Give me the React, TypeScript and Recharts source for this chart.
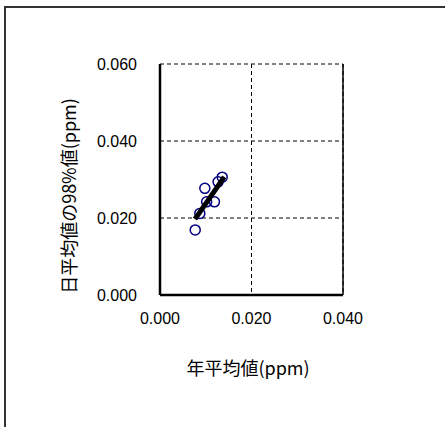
import React from 'react';
import { ScatterChart, Scatter, XAxis, YAxis, CartesianGrid, ReferenceLine } from 'recharts';

// Annual mean (ppm) vs 98th percentile of daily means (ppm)
const annualMean = [0.0077, 0.0087, 0.0098, 0.0102, 0.0119, 0.0127, 0.0136];
const daily98 = [0.0169, 0.0212, 0.0277, 0.0242, 0.0242, 0.0294, 0.0306];
// regression line end points
const fitX = [0.00765, 0.01405];
const fitY = [0.0197, 0.0307];
const xTicks = [0, 0.02, 0.04];
const yTicks = [0, 0.02, 0.04, 0.06];
const xTitle = '年平均値(ppm)';
const yTitle = '日平均値の98%値(ppm)';

const points = annualMean.map((x, i) => ({ x, y: daily98[i] }));
const fit = fitX.map((x, i) => ({ x, y: fitY[i] }));

const numFont = '"Liberation Sans", Arial, sans-serif';
const jpFont = '"Noto Sans CJK JP", sans-serif';

const Circle = (props: any) => {
  const { cx, cy } = props;
  return <circle cx={cx} cy={cy} r={5} fill="none" stroke="#000080" strokeWidth={1.5} />;
};

export default function App() {
  return (
    <div style={{ position: 'absolute', left: 0, top: 0, width: 445, height: 427, background: '#fff', overflow: 'hidden' }}>
      <div
        style={{
          position: 'absolute',
          left: 4,
          top: 6,
          width: 460,
          height: 440,
          borderTop: '2px solid #333',
          borderLeft: '2px solid #333',
        }}
      />
      <div style={{ position: 'absolute', left: 0, top: 0 }}>
        <ScatterChart width={445} height={427} margin={{ top: 64, right: 102, bottom: 102, left: 60 }}>
          <CartesianGrid stroke="#000" strokeDasharray="4 3" strokeWidth={1} />
          <XAxis
            type="number"
            dataKey="x"
            domain={[0, 0.04]}
            ticks={xTicks}
            height={30}
            tickLine={false}
            tickSize={0}
            tickMargin={18}
            axisLine={{ stroke: '#000', strokeWidth: 2.5 }}
            tick={{ fill: '#000', fontSize: 16, fontFamily: numFont }}
            tickFormatter={(v: number) => v.toFixed(3)}
            label={{
              content: () => (
                <text x={248} y={367} textAnchor="middle" dominantBaseline="central" fontSize={18} fontFamily={jpFont} fill="#000">
                  {xTitle}
                </text>
              ),
            }}
          />
          <YAxis
            type="number"
            dataKey="y"
            domain={[0, 0.06]}
            ticks={yTicks}
            width={100}
            tickLine={false}
            tickSize={0}
            tickMargin={23}
            axisLine={{ stroke: '#000', strokeWidth: 2.5 }}
            tick={{ fill: '#000', fontSize: 16, fontFamily: numFont }}
            tickFormatter={(v: number) => v.toFixed(3)}
            label={{
              content: () => (
                <text
                  x={68}
                  y={196}
                  transform="rotate(-90 68 196)"
                  textAnchor="middle"
                  dominantBaseline="central"
                  fontSize={18}
                  fontFamily={jpFont}
                  fill="#000"
                >
                  {yTitle}
                </text>
              ),
            }}
          />
          <ReferenceLine x={0.04} stroke="#000" strokeWidth={1.5} />
          <Scatter data={points} shape={Circle} isAnimationActive={false} />
          <Scatter
            data={fit}
            line={{ stroke: '#000', strokeWidth: 5 }}
            shape={() => <g />}
            isAnimationActive={false}
          />
        </ScatterChart>
      </div>
    </div>
  );
}
